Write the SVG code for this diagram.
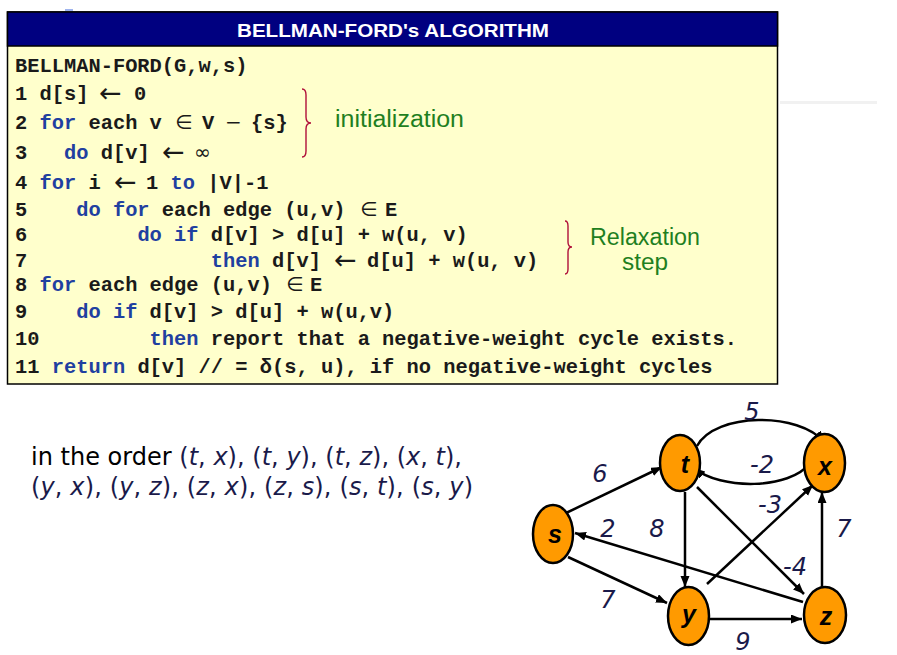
<svg xmlns="http://www.w3.org/2000/svg" width="897" height="655" viewBox="0 0 897 655">
<style>
.code{font-family:"Liberation Mono","Courier New",monospace;font-weight:bold;font-size:20.4px;fill:#1a1a1a}
.kw{fill:#1f40a0}
.sym{font-family:"DejaVu Sans",sans-serif;font-weight:normal;font-size:20px;fill:#1a1a1a}
.arr{font-family:"DejaVu Sans",sans-serif;font-weight:normal;font-size:27px;fill:#1a1a1a}
.note{font-family:"Liberation Sans",Arial,sans-serif;fill:#1f7f1f}
.brace{fill:none;stroke:#b0103a;stroke-width:1.4}
.body{font-family:"DejaVu Sans",Tahoma,sans-serif;font-size:24px;fill:#000}
.tup{fill:#1a1a4a}
.it{font-style:italic}
.node ellipse{fill:#ff9a00;stroke:#000;stroke-width:2.5}
.node text{font-family:"Liberation Sans",Arial,sans-serif;font-weight:bold;font-style:italic;font-size:25px;fill:#000;text-anchor:middle}
.edge{fill:none;stroke:#000;stroke-width:2.5;marker-end:url(#ah)}
.wt{font-family:"DejaVu Sans",Tahoma,sans-serif;font-style:italic;font-size:24px;fill:#1a1a4a;text-anchor:middle}
</style>
<defs>
<marker id="ah" markerUnits="userSpaceOnUse" markerWidth="12" markerHeight="10" refX="11" refY="4.5" orient="auto">
<path d="M0,0 L11,4.5 L0,9 z" fill="#000"/>
</marker>
</defs>
<rect width="897" height="655" fill="#fff"/>
<rect x="65" y="9" width="8" height="2" fill="#9fb4ee"/>
<rect x="780" y="101" width="97" height="3" fill="#f1f1f1"/>

<g id="algorithm-box">
<rect x="7.5" y="12" width="770" height="372" fill="#ffffcc" stroke="#000" stroke-width="1.5"/>
<rect x="7.5" y="12" width="770" height="34" fill="#000080" stroke="#000" stroke-width="1.5"/>
<text x="237" y="37" font-family="Liberation Sans,Arial,sans-serif" font-weight="bold" font-size="19" fill="#fff" textLength="312" lengthAdjust="spacingAndGlyphs">BELLMAN-FORD's ALGORITHM</text>
<text class="code" x="15" y="72" xml:space="preserve">BELLMAN-FORD(G,w,s)</text>
<text class="code" x="15" y="100" xml:space="preserve">1 d[s] <tspan x="134">0</tspan></text>
<text class="arr" x="99" y="102">←</text>
<text class="code" x="15" y="129" xml:space="preserve">2 <tspan class="kw">for</tspan> each v <tspan class="sym" x="175" font-size="18">∈</tspan><tspan x="202">V</tspan><tspan class="sym" x="225">−</tspan><tspan x="251">{s}</tspan></text>
<text class="code" x="15" y="159" xml:space="preserve">3   <tspan class="kw">do</tspan> d[v] <tspan class="sym" x="194">∞</tspan></text>
<text class="arr" x="162" y="161">←</text>
<text class="code" x="15" y="189" xml:space="preserve">4 <tspan class="kw">for</tspan> i <tspan x="146">1 </tspan><tspan class="kw">to</tspan> |V|-1</text>
<text class="arr" x="114" y="191">←</text>
<text class="code" x="15" y="216" xml:space="preserve">5    <tspan class="kw">do for</tspan> each edge (u,v) <tspan class="sym" x="360" font-size="18">∈</tspan><tspan x="385">E</tspan></text>
<text class="code" x="15" y="241" xml:space="preserve">6         <tspan class="kw">do if</tspan> d[v] &gt; d[u] + w(u, v)</text>
<text class="code" x="15" y="267" xml:space="preserve">7               <tspan class="kw">then</tspan> d[v] <tspan x="367">d[u] + w(u, v)</tspan></text>
<text class="arr" x="334" y="269">←</text>
<text class="code" x="15" y="291" xml:space="preserve">8 <tspan class="kw">for</tspan> each edge (u,v) <tspan class="sym" x="286" font-size="18">∈</tspan><tspan x="310">E</tspan></text>
<text class="code" x="15" y="318" xml:space="preserve">9    <tspan class="kw">do if</tspan> d[v] &gt; d[u] + w(u,v)</text>
<text class="code" x="15" y="345" xml:space="preserve">10         <tspan class="kw">then</tspan> report that a negative-weight cycle exists.</text>
<text class="code" x="15" y="373" xml:space="preserve">11 <tspan class="kw">return</tspan> d[v] // = δ(s, u), if no negative-weight cycles</text>
<path class="brace" d="M302,89 Q306,89 306,95 L306,117 Q306,123 311,123 Q306,123 306,129 L306,151 Q306,157 302,157"/>
<text class="note" x="335" y="127" font-size="23" textLength="129" lengthAdjust="spacingAndGlyphs">initialization</text>
<path class="brace" d="M565,221 Q568,221 568,226 L568,242 Q568,247 572,247 Q568,247 568,252 L568,269 Q568,274 565,274"/>
<text class="note" x="590" y="245" font-size="23" textLength="110" lengthAdjust="spacingAndGlyphs">Relaxation</text>
<text class="note" x="622" y="270" font-size="23" textLength="46" lengthAdjust="spacingAndGlyphs">step</text>
</g>

<g id="edge-order-text">
<text class="body" x="31" y="465" textLength="431">in the order <tspan class="tup">(<tspan class="it">t</tspan>, <tspan class="it">x</tspan>), (<tspan class="it">t</tspan>, <tspan class="it">y</tspan>), (<tspan class="it">t</tspan>, <tspan class="it">z</tspan>), (<tspan class="it">x</tspan>, <tspan class="it">t</tspan>),</tspan></text>
<text class="body tup" x="31" y="495" textLength="442">(<tspan class="it">y</tspan>, <tspan class="it">x</tspan>), (<tspan class="it">y</tspan>, <tspan class="it">z</tspan>), (<tspan class="it">z</tspan>, <tspan class="it">x</tspan>), (<tspan class="it">z</tspan>, <tspan class="it">s</tspan>), (<tspan class="it">s</tspan>, <tspan class="it">t</tspan>), (<tspan class="it">s</tspan>, <tspan class="it">y</tspan>)</text>
</g>

<g id="connectors">
<path class="edge" d="M566,513 L662,467"/>
<path class="edge" d="M685,492 L685,587"/>
<path class="edge" d="M697,487 L804,594"/>
<path class="edge" d="M707,584 L813,485"/>
<path class="edge" d="M822,587 L822,492"/>
<path class="edge" d="M803,602 L575,533"/>
<path class="edge" d="M568,557 L667,603"/>
<path class="edge" d="M710,619 L802,619"/>
<path class="edge" d="M697,446 C715,412 800,412 824,442"/>
<path class="edge" d="M810,463 C790,490 720,490 694,468"/>
<text class="wt" x="752" y="420">5</text>
<text class="wt" x="600" y="482">6</text>
<text class="wt" x="762" y="473">-2</text>
<text class="wt" x="770" y="513">-3</text>
<text class="wt" x="608" y="537">2</text>
<text class="wt" x="657" y="537">8</text>
<text class="wt" x="844" y="537">7</text>
<text class="wt" x="795" y="575">-4</text>
<text class="wt" x="608" y="608">7</text>
<text class="wt" x="743" y="650">9</text>
</g>

<g id="node-s" class="node"><ellipse cx="553" cy="534" rx="20" ry="29"/><text x="555" y="543">s</text></g>
<g id="node-t" class="node"><ellipse cx="680" cy="463" rx="20" ry="28"/><text x="685" y="473">t</text></g>
<g id="node-x" class="node"><ellipse cx="824.5" cy="463" rx="20.5" ry="29"/><text x="825" y="475">x</text></g>
<g id="node-y" class="node"><ellipse cx="688.5" cy="616" rx="20.5" ry="29"/><text x="689" y="623">y</text></g>
<g id="node-z" class="node"><ellipse cx="825" cy="615" rx="21" ry="28"/><text x="826" y="625">z</text></g>
</svg>
